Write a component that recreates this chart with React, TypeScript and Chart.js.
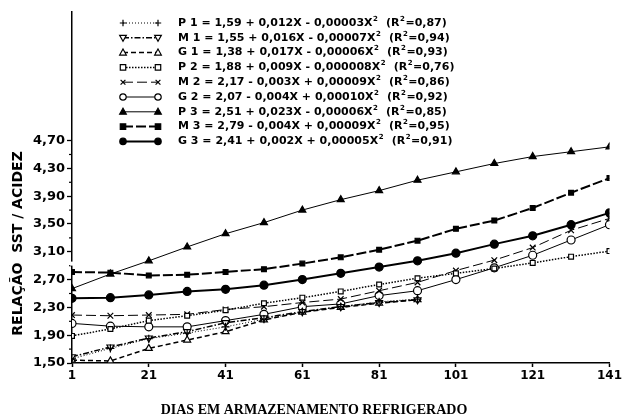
import React, { useEffect, useRef } from "react";
import { Chart, registerables } from "chart.js";
Chart.register(...registerables);

const days = [1, 11, 21, 31, 41, 51, 61, 71, 81, 91, 101, 111, 121, 131, 141];
const xTicks = [1, 21, 41, 61, 81, 101, 121, 141];
const yTicks = [1.5, 1.9, 2.3, 2.7, 3.1, 3.5, 3.9, 4.3, 4.7];

const p1 = [1.56, 1.71, 1.85, 1.93, 2.02, 2.13, 2.23, 2.31, 2.38, 2.42];
const m1 = [1.59, 1.73, 1.86, 1.95, 2.08, 2.15, 2.24, 2.31, 2.37, 2.41];
const g1 = [1.54, 1.53, 1.71, 1.83, 1.95, 2.12, 2.23, 2.3, 2.36, 2.41];
const p2 = [1.89, 1.99, 2.11, 2.18, 2.26, 2.36, 2.44, 2.53, 2.63, 2.72, 2.79, 2.86, 2.94, 3.03, 3.11];
const m2 = [2.19, 2.18, 2.19, 2.2, 2.27, 2.31, 2.37, 2.42, 2.54, 2.66, 2.83, 2.98, 3.16, 3.41, 3.58];
const g2 = [2.07, 2.03, 2.02, 2.02, 2.11, 2.2, 2.31, 2.35, 2.47, 2.54, 2.7, 2.87, 3.05, 3.27, 3.49];
const p3 = [2.57, 2.78, 2.97, 3.17, 3.36, 3.52, 3.7, 3.85, 3.98, 4.13, 4.25, 4.37, 4.47, 4.54, 4.61];
const m3 = [2.81, 2.8, 2.76, 2.77, 2.81, 2.85, 2.93, 3.02, 3.13, 3.26, 3.43, 3.55, 3.73, 3.95, 4.16];
const g3 = [2.43, 2.44, 2.48, 2.53, 2.56, 2.62, 2.7, 2.79, 2.88, 2.97, 3.08, 3.21, 3.33, 3.49, 3.66];

const seriesNames = ["P 1", "M 1", "G 1", "P 2", "M 2", "G 2", "P 3", "M 3", "G 3"];
const equations = [
  "1,59 + 0,012X - 0,00003X",
  "1,55 + 0,016X - 0,00007X",
  "1,38 + 0,017X - 0,00006X",
  "1,88 + 0,009X - 0,000008X",
  "2,17 - 0,003X + 0,00009X",
  "2,07 - 0,004X + 0,00010X",
  "2,51 + 0,023X - 0,00006X",
  "2,79 - 0,004X + 0,00009X",
  "2,41 + 0,002X + 0,00005X",
];
const r2Values = ["0,87", "0,94", "0,93", "0,76", "0,86", "0,92", "0,85", "0,95", "0,91"];

const xTitle = "DIAS EM ARMAZENAMENTO REFRIGERADO";
const yTitle = "RELAÇÃO  SST / ACIDEZ";

const SANS = "'DejaVu Sans', sans-serif";
const SERIF = "'Liberation Serif', 'Times New Roman', serif";

type Style = {
  marker: string;
  filled: boolean;
  rot: number;
  dash: number[];
  width: number;
};

const styles: Style[] = [
  { marker: "cross", filled: false, rot: 0, dash: [1, 2], width: 1 },
  { marker: "triangle", filled: false, rot: 180, dash: [6, 2, 1.5, 2], width: 1.5 },
  { marker: "triangle", filled: false, rot: 0, dash: [5, 3], width: 1.5 },
  { marker: "rect", filled: false, rot: 0, dash: [1.5, 1.5], width: 1.5 },
  { marker: "crossRot", filled: false, rot: 0, dash: [10, 4], width: 1 },
  { marker: "circle", filled: false, rot: 0, dash: [], width: 1 },
  { marker: "triangle", filled: true, rot: 0, dash: [], width: 1 },
  { marker: "rect", filled: true, rot: 0, dash: [10, 3], width: 2 },
  { marker: "circle", filled: true, rot: 0, dash: [], width: 2 },
];

const seriesData = [p1, m1, g1, p2, m2, g2, p3, m3, g3];

function drawMarker(ctx: CanvasRenderingContext2D, s: Style, x: number, y: number, r: number) {
  ctx.save();
  ctx.setLineDash([]);
  ctx.lineWidth = 1.2;
  ctx.strokeStyle = "#000";
  ctx.fillStyle = s.filled ? "#000" : "#fff";
  ctx.translate(x, y);
  ctx.rotate((s.rot * Math.PI) / 180);
  ctx.beginPath();
  if (s.marker === "circle") {
    ctx.arc(0, 0, r, 0, Math.PI * 2);
    ctx.fill();
    ctx.stroke();
  } else if (s.marker === "rect") {
    const h = r * 0.85;
    ctx.rect(-h, -h, 2 * h, 2 * h);
    ctx.fill();
    ctx.stroke();
  } else if (s.marker === "triangle") {
    const h = r * 1.1;
    ctx.moveTo(0, -h);
    ctx.lineTo(h * 0.95, h * 0.7);
    ctx.lineTo(-h * 0.95, h * 0.7);
    ctx.closePath();
    ctx.fill();
    ctx.stroke();
  } else if (s.marker === "cross") {
    ctx.moveTo(-r, 0);
    ctx.lineTo(r, 0);
    ctx.moveTo(0, -r);
    ctx.lineTo(0, r);
    ctx.stroke();
  } else if (s.marker === "crossRot") {
    const h = r * 0.75;
    ctx.moveTo(-h, -h);
    ctx.lineTo(h, h);
    ctx.moveTo(h, -h);
    ctx.lineTo(-h, h);
    ctx.stroke();
  }
  ctx.restore();
}

const decorPlugin = {
  id: "decor",
  afterDraw(chart: any) {
    const ctx: CanvasRenderingContext2D = chart.ctx;
    const area = chart.chartArea;
    const yScale = chart.scales.y;
    ctx.save();
    // minor ticks on y axis
    ctx.strokeStyle = "#000";
    ctx.lineWidth = 1.2;
    for (let i = 0; i < yTicks.length - 1; i++) {
      const yy = yScale.getPixelForValue((yTicks[i] + yTicks[i + 1]) / 2);
      ctx.beginPath();
      ctx.moveTo(area.left - 3, yy);
      ctx.lineTo(area.left, yy);
      ctx.stroke();
    }
    // axis break on y axis
    const yb = yScale.getPixelForValue(2.93);
    ctx.fillStyle = "#fff";
    ctx.fillRect(area.left - 2, yb - 2, 4, 4);

    // legend
    const x0 = area.left + 51;
    const x1 = area.left + 86;
    const tx = area.left + 106;
    const y0 = 23;
    const rowH = 14.8;
    for (let i = 0; i < seriesNames.length; i++) {
      const s = styles[i];
      const y = y0 + i * rowH;
      ctx.beginPath();
      ctx.setLineDash(s.dash);
      ctx.lineWidth = s.width;
      ctx.strokeStyle = "#000";
      ctx.moveTo(x0, y);
      ctx.lineTo(x1, y);
      ctx.stroke();
      ctx.setLineDash([]);
      drawMarker(ctx, s, x0, y, 3.2);
      drawMarker(ctx, s, x1, y, 3.2);

      ctx.fillStyle = "#000";
      ctx.textBaseline = "middle";
      ctx.textAlign = "left";
      const main = `${seriesNames[i]} = ${equations[i]}`;
      ctx.font = `bold 11px ${SANS}`;
      let cx = tx;
      ctx.fillText(main, cx, y);
      cx += ctx.measureText(main).width;
      ctx.font = `bold 7px ${SANS}`;
      ctx.fillText("2", cx + 0.5, y - 4);
      cx += ctx.measureText("2").width + 1;
      ctx.font = `bold 11px ${SANS}`;
      const part2 = "  (R";
      ctx.fillText(part2, cx, y);
      cx += ctx.measureText(part2).width;
      ctx.font = `bold 7px ${SANS}`;
      ctx.fillText("2", cx + 0.5, y - 4);
      cx += ctx.measureText("2").width + 1;
      ctx.font = `bold 11px ${SANS}`;
      ctx.fillText(`=${r2Values[i]})`, cx, y);
    }

    // axis titles
    ctx.fillStyle = "#000";
    ctx.font = `bold 14px ${SERIF}`;
    ctx.textAlign = "center";
    ctx.textBaseline = "middle";
    ctx.fillText(xTitle, 314, 410);

    ctx.save();
    ctx.translate(18, yScale.getPixelForValue(3.22));
    ctx.rotate(-Math.PI / 2);
    ctx.font = `bold 14px ${SANS}`;
    ctx.fillText(yTitle, 0, 0);
    ctx.restore();
    ctx.restore();
  },
};

export default function App() {
  const ref = useRef<HTMLCanvasElement | null>(null);
  useEffect(() => {
    if (!ref.current) return;
    const datasets = seriesData.map((vals, i) => {
      const s = styles[i];
      return {
        label: seriesNames[i],
        data: vals.map((v, j) => ({ x: days[j], y: v })),
        borderColor: "#000",
        borderWidth: s.width,
        borderDash: s.dash,
        backgroundColor: s.filled ? "#000" : "#fff",
        pointBackgroundColor: s.filled ? "#000" : "#fff",
        pointBorderColor: "#000",
        pointBorderWidth: 1.2,
        pointStyle: s.marker,
        pointRotation: s.rot,
        pointRadius: s.marker === "rect" ? 3.4 : 4,
        tension: 0,
        fill: false,
      };
    });
    const chart = new Chart(ref.current, {
      type: "line",
      data: { datasets },
      options: {
        animation: false,
        responsive: false,
        layout: { padding: { left: 0, right: 10, top: 12, bottom: 0 } },
        plugins: { legend: { display: false }, tooltip: { enabled: false } },
        scales: {
          x: {
            type: "linear",
            min: 1,
            max: 141,
            afterBuildTicks: (s: any) => {
              s.ticks = xTicks.map((v) => ({ value: v }));
            },
            afterFit: (s: any) => {
              s.height = 54;
            },
            grid: {
              display: true,
              drawOnChartArea: false,
              drawTicks: true,
              tickLength: 4,
              tickColor: "#000",
              tickWidth: 1.5,
            },
            border: { display: true, color: "#000", width: 1.5 },
            ticks: {
              color: "#000",
              font: { family: SANS, size: 12, weight: "bold" },
              padding: 2,
              maxRotation: 0,
              autoSkip: false,
              callback: (v: any) => String(v),
            },
          },
          y: {
            type: "linear",
            min: 1.5,
            max: 6.55,
            afterBuildTicks: (s: any) => {
              s.ticks = yTicks.map((v) => ({ value: v }));
            },
            afterFit: (s: any) => {
              s.width = 72;
            },
            grid: {
              display: true,
              drawOnChartArea: false,
              drawTicks: true,
              tickLength: 5,
              tickColor: "#000",
              tickWidth: 1.3,
            },
            border: { display: true, color: "#000", width: 1.5 },
            ticks: {
              color: "#000",
              font: { family: SANS, size: 13, weight: "bold" },
              padding: 2,
              autoSkip: false,
              callback: (v: any) => Number(v).toFixed(2).replace(".", ","),
            },
          },
        },
      },
      plugins: [decorPlugin],
    } as any);
    return () => chart.destroy();
  }, []);
  return (
    <div style={{ position: "absolute", left: 0, top: 0, width: 624, height: 417, background: "#fff" }}>
      <canvas ref={ref} width={624} height={417} />
    </div>
  );
}
